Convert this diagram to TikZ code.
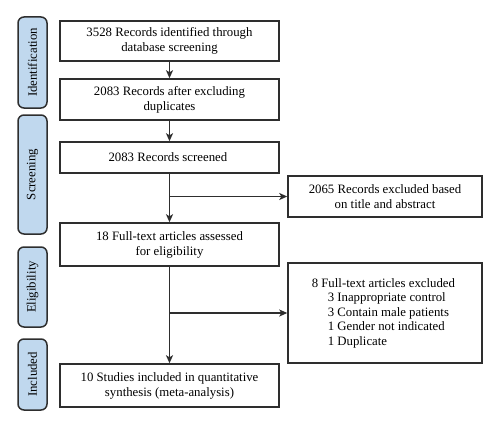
\documentclass[tikz,border=0pt]{standalone}
\usepackage{fontspec}
\setmainfont{Liberation Serif}
\usepackage{tikz}
\usetikzlibrary{arrows.meta,calc}

\definecolor{stagefill}{HTML}{C0D8EE}
\definecolor{linegray}{HTML}{2E2E2E}

\begin{document}
\begin{tikzpicture}[x=1pt,y=-1pt,->,>={Stealth[length=8pt,width=7pt,inset=2pt]},auto,
      box/.style={rectangle,draw=linegray,line width=1.5pt,align=center,
        minimum width=219pt,inner sep=2pt,
        font=\rmfamily\fontsize{12.8}{15}\selectfont},
      side/.style={box,minimum width=194pt},
      stage/.style={rectangle,rounded corners=6pt,draw=linegray,
        line width=1.5pt,fill=stagefill,rotate=90,minimum height=29pt,
        inner sep=0pt,font=\rmfamily\fontsize{12.8}{15}\selectfont},
      link/.style={draw=linegray,line width=1.6pt}]

      \useasboundingbox (0,0) rectangle (500,428);

      \node[stage,minimum width=91pt]  (sid)  at (32.5, 62.5) { Identification };
      \node[stage,minimum width=119pt] (sscr) at (32.5,174.5) { Screening };
      \node[stage,minimum width=80pt]  (seli) at (32.5,287)   { Eligibility };
      \node[stage,minimum width=71pt]  (sinc) at (32.5,374.5) { Included };

      \node[box,minimum height=40pt] (recid)  at (169.5, 41)
      { 3528 Records identified through\\ database screening };
      \node[box,minimum height=41pt] (recdup) at (169.5, 99.5)
      { 2083 Records after excluding\\ duplicates };
      \node[box,minimum height=31pt] (recscr) at (169.5,157.5)
      { 2083 Records screened };
      \node[box,minimum height=43pt] (fulltx) at (169.5,244.5)
      { 18 Full-text articles assessed\\ for eligibility };
      \node[box,minimum height=43pt] (incl)   at (169.5,385.5)
      { 10 Studies included in quantitative\\ synthesis (meta-analysis) };

      \node[side,minimum height=41pt]  (exrec)  at (385,196.5)
      { 2065 Records excluded based\\ on title and abstract };
      \node[side,minimum height=100pt] (exfull) at (385,313)
      { \begin{tabular}{@{}l@{}}
          8 Full-text articles excluded\\[-0.5pt]
          \hspace*{16pt}3 Inappropriate control\\[-0.5pt]
          \hspace*{16pt}3 Contain male patients\\[-0.5pt]
          \hspace*{16pt}1 Gender not indicated\\[-0.5pt]
          \hspace*{16pt}1 Duplicate
        \end{tabular} };

      \coordinate (br1) at (169.5,196.5);
      \coordinate (br2) at (169.5,313);

      \draw[link] (recid) -- (recdup);
      \draw[link] (recdup) -- (recscr);
      \draw[link] (recscr) -- (fulltx);
      \draw[link] (br1) -- (exrec);
      \draw[link] (fulltx) -- (incl);
      \draw[link] (br2) -- (exfull);
    \end{tikzpicture}
\end{document}
